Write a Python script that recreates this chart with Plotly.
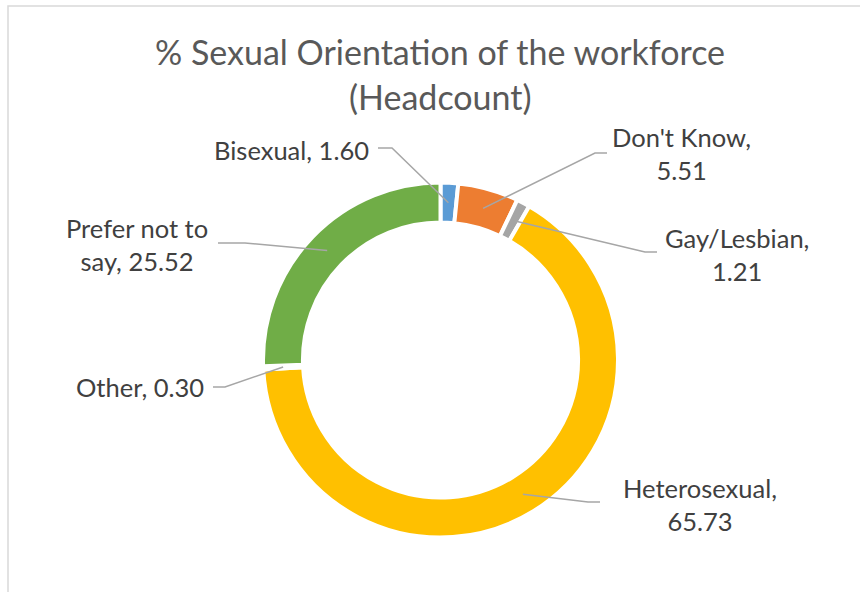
import math
import plotly.graph_objects as go

# ---- data ----
categories = ["Bisexual", "Don't Know", "Gay/Lesbian", "Heterosexual", "Other", "Prefer not to say"]
values = [1.60, 5.51, 1.21, 65.73, 0.30, 25.52]
label_texts = ["Bisexual, 1.60", "Don't Know,<br>5.51", "Gay/Lesbian,<br>1.21",
               "Heterosexual,<br>65.73", "Other, 0.30", "Prefer not to<br>say, 25.52"]
colors = ["#5B9BD5", "#ED7D31", "#A5A5A5", "#FFC000", "#4472C4", "#70AD47"]
title_lines = ["% Sexual Orientation of the workforce", "(Headcount)"]

# ---- layout constants (pixels) ----
W, H = 860, 592
CX, CY, R_OUT = 440.5, 360.0, 177.5
HOLE = 0.775
R_ANCHOR = R_OUT * (1 + HOLE) / 2
FONT = "Lato, Carlito, Calibri, sans-serif"

# label centre positions and leader-line text-side points (pixels)
label_pos = [(291, 150), (681, 154), (737, 255), (700, 504), (140, 387), (137, 245)]
leader_pts = [[(378, 148), (392, 148)], [(607, 153), (595, 153)], [(657, 252), (645, 252)],
              [(600, 502), (588, 502)], [(213, 387), (225, 387)], [(218, 243), (245, 243)]]

def px(x):
    return x / W

def py(y):
    return 1 - y / H

fig = go.Figure(go.Pie(
    labels=categories, values=values, sort=False, direction="clockwise", rotation=0,
    hole=HOLE, textinfo="none", hoverinfo="label+value",
    marker=dict(colors=colors, line=dict(color="white", width=4)),
    domain=dict(x=[px(CX - R_OUT), px(CX + R_OUT)], y=[py(CY + R_OUT), py(CY - R_OUT)]),
    showlegend=False,
))

annotations = []
shapes = []
total = sum(values)
cum = 0.0
for i, v in enumerate(values):
    mid = (cum + v / 2) / total * 2 * math.pi
    cum += v
    ax = CX + R_ANCHOR * math.sin(mid)
    ay = CY - R_ANCHOR * math.cos(mid)
    (x0, y0), (x1, y1) = leader_pts[i]
    path = f"M {px(x0)},{py(y0)} L {px(x1)},{py(y1)} L {px(ax)},{py(ay)}"
    shapes.append(dict(type="path", xref="paper", yref="paper", path=path,
                       line=dict(color="#A6A6A6", width=1.5)))
    lx, ly = label_pos[i]
    annotations.append(dict(text=label_texts[i], x=px(lx), y=py(ly), xref="paper", yref="paper",
                            xanchor="center", yanchor="middle", showarrow=False, align="center",
                            font=dict(family=FONT, size=25.5, color="#404040")))

for t, ty in zip(title_lines, [51, 97]):
    annotations.append(dict(text=t, x=px(440), y=py(ty), xref="paper", yref="paper",
                            xanchor="center", yanchor="middle", showarrow=False,
                            font=dict(family=FONT, size=34, color="#595959")))

# chart-area border (extends past the right and bottom edges)
shapes.append(dict(type="rect", xref="paper", yref="paper",
                   x0=px(8), x1=px(W + 20), y0=py(H + 20), y1=py(6),
                   line=dict(color="#D9D9D9", width=1.5), layer="below"))

fig.update_layout(
    width=W, height=H, margin=dict(l=0, r=0, t=0, b=0),
    paper_bgcolor="white", plot_bgcolor="white",
    annotations=annotations, shapes=shapes,
)

fig.write_html("out.html", config={"displayModeBar": False},
               post_script="document.body.style.margin='0';document.body.style.overflow='hidden';")
